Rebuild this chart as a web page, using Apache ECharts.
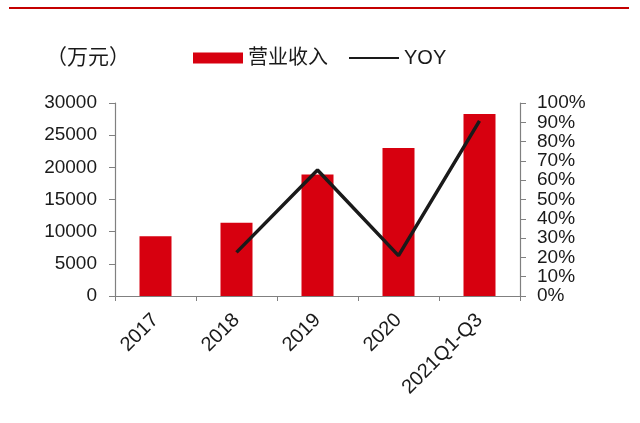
<!DOCTYPE html>
<html>
<head>
<meta charset="utf-8">
<script src="https://cdn.jsdelivr.net/npm/echarts@6/dist/echarts.min.js"></script>
<style>
html,body{margin:0;padding:0;background:#fff;}
#chart{width:640px;height:423px;}
</style>
</head>
<body>
<div id="chart"></div>
<script>
var categories = ['2017', '2018', '2019', '2020', '2021Q1-Q3'];
var revenue = [9300, 11400, 18900, 23000, 28300];
var yoy = [null, 0.226, 0.653, 0.209, 0.907];
var leftTicks = { min: 0, max: 30000, interval: 5000 };
var rightTicks = { min: 0, max: 1, interval: 0.1 };
var unitLabel = '（万元）';
var seriesNames = ['营业收入', 'YOY'];

var FONT = '"Liberation Sans", Arial, "Noto Sans CJK SC", sans-serif';
var TXT = '#1a1a1a';
var AX = '#808080';

var chart = echarts.init(document.getElementById('chart'));
chart.setOption({
  animation: false,
  backgroundColor: '#fff',
  textStyle: { fontFamily: FONT, color: TXT },
  graphic: [
    { type: 'line', shape: { x1: 9, y1: 8, x2: 629, y2: 8 }, style: { stroke: '#c40000', lineWidth: 2 } },
    { type: 'text', left: 46, top: 46, style: { text: unitLabel, fontSize: 21, fill: TXT, fontFamily: '"Noto Sans CJK SC", sans-serif' } }
  ],
  legend: {
    left: 188, top: 43,
    itemWidth: 50, itemHeight: 11, itemGap: 20,
    textStyle: { fontSize: 20, color: TXT, fontFamily: FONT },
    data: [
      { name: seriesNames[0], icon: 'rect' },
      { name: seriesNames[1], itemStyle: { opacity: 0 } }
    ]
  },
  grid: { left: 115, right: 120, top: 103, bottom: 127, containLabel: false },
  xAxis: {
    type: 'category',
    data: categories,
    axisLine: { lineStyle: { color: AX, width: 1.2 } },
    axisTick: { show: true, length: 5, lineStyle: { color: AX } },
    axisLabel: { rotate: 45, fontSize: 20, color: TXT, margin: 21, fontFamily: FONT }
  },
  yAxis: [
    {
      type: 'value', min: leftTicks.min, max: leftTicks.max, interval: leftTicks.interval,
      axisLine: { show: true, lineStyle: { color: AX, width: 1.2 } },
      axisTick: { show: true, length: 6, lineStyle: { color: AX } },
      splitLine: { show: false },
      axisLabel: { fontSize: 19, color: TXT, margin: 18, fontFamily: FONT,
        formatter: function (v) { return String(v); } }
    },
    {
      type: 'value', min: rightTicks.min, max: rightTicks.max, interval: rightTicks.interval,
      position: 'right',
      axisLine: { show: true, lineStyle: { color: AX, width: 1.2 } },
      axisTick: { show: true, length: 6, lineStyle: { color: AX } },
      splitLine: { show: false },
      axisLabel: { fontSize: 19, color: TXT, margin: 17, fontFamily: FONT,
        formatter: function (v) { return Math.round(v * 100) + '%'; } }
    }
  ],
  series: [
    {
      name: seriesNames[0], type: 'bar', data: revenue, barWidth: 32,
      itemStyle: { color: '#d7000f' }
    },
    {
      name: seriesNames[1], type: 'line', yAxisIndex: 1, data: yoy,
      symbol: 'none', connectNulls: false,
      lineStyle: { color: '#1a1a1a', width: 3.5 },
      itemStyle: { color: '#1a1a1a' }
    }
  ]
});
</script>
</body>
</html>
